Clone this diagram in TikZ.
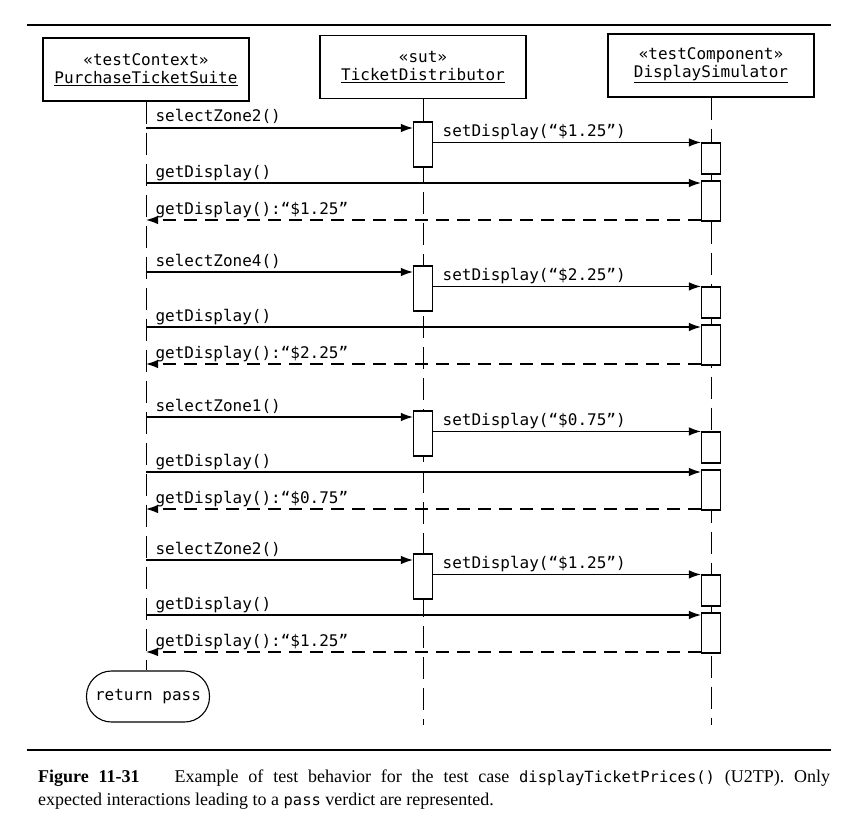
\documentclass[tikz,border=0pt]{standalone}
\usepackage{fontspec}
\setmainfont{Liberation Serif}
\setmonofont{DejaVu Sans Mono}
\usepackage{tikz}
\usetikzlibrary{arrows.meta}
\newcommand\capcode{\fontsize{15.5}{22}\selectfont\ttfamily}

\begin{document}
\begin{tikzpicture}[x=1pt, y=-1pt,
    every node/.style={font=\fontsize{16}{18}\selectfont\ttfamily},
    obj/.style={draw, line width=1.1pt, minimum width=206pt, minimum height=63pt, align=center},
    act/.style={draw, fill=white, line width=1.1pt, minimum width=19pt, inner sep=0pt},
    msg/.style={line width=1.2pt, -{Latex[length=12pt,width=8.5pt]}},
    ret/.style={msg, dash pattern=on 13pt off 8pt},
    life/.style={line width=0.9pt, dash pattern=on 22pt off 9pt},
    lbl/.style={anchor=base west, inner sep=0pt, xshift=9pt, yshift=6pt},
    rule/.style={line width=2.2pt}]
  \useasboundingbox (0,0) rectangle (846,832);
  \draw[rule] (27,25) -- (831,25);
  \draw[rule] (27,750) -- (831,750);
  \node[obj] (pts) at (146,69.5) {«testContext»\\\underline{PurchaseTicketSuite}};
  \node[obj] (td) at (423,67) {«sut»\\\underline{TicketDistributor}};
  \node[obj] (ds) at (711,65.5) {«testComponent»\\\underline{DisplaySimulator}};
  \node[draw, line width=1.1pt, rounded corners=25pt, minimum width=123pt, minimum height=51pt] (pass) at (148,696.5) {return pass};
  \coordinate (tdend) at (423,725);
  \coordinate (dsend) at (711,725);
  \draw[life] (pts.south) -- (pass.north -| pts.south);
  \draw[life] (td.south) -- (tdend);
  \draw[life] (ds.south) -- (dsend);

  \coordinate (s1) at (146,128);
  \coordinate (g1) at (146,183);
  \coordinate (r1) at (146,220);
  \node[act, minimum height=45pt] (ta1) at (423,144.5) {};
  \node[act, minimum height=31pt] (da1) at (711,158.5) {};
  \node[act, minimum height=40pt] (db1) at (711,201) {};
  \draw[msg] (s1) -- node[lbl, pos=0] (ls1) {selectZone2()} (ta1.west |- s1);
  \draw[msg] (ta1.east |- da1.north) -- node[lbl, pos=0] (lt1) {setDisplay(“\$1.25”)} (da1.north west);
  \draw[msg] (g1) -- node[lbl, pos=0] (lg1) {getDisplay()} (db1.west |- g1);
  \draw[ret] (db1.west |- r1) -- node[lbl, pos=1] (lr1) {getDisplay():“\$1.25”} (r1);

  \coordinate (s2) at (146,272);
  \coordinate (g2) at (146,327);
  \coordinate (r2) at (146,364);
  \node[act, minimum height=45pt] (ta2) at (423,288.5) {};
  \node[act, minimum height=31pt] (da2) at (711,302.5) {};
  \node[act, minimum height=40pt] (db2) at (711,345) {};
  \draw[msg] (s2) -- node[lbl, pos=0] (ls2) {selectZone4()} (ta2.west |- s2);
  \draw[msg] (ta2.east |- da2.north) -- node[lbl, pos=0] (lt2) {setDisplay(“\$2.25”)} (da2.north west);
  \draw[msg] (g2) -- node[lbl, pos=0] (lg2) {getDisplay()} (db2.west |- g2);
  \draw[ret] (db2.west |- r2) -- node[lbl, pos=1] (lr2) {getDisplay():“\$2.25”} (r2);

  \coordinate (s3) at (146,417);
  \coordinate (g3) at (146,472);
  \coordinate (r3) at (146,509);
  \node[act, minimum height=45pt] (ta3) at (423,433.5) {};
  \node[act, minimum height=31pt] (da3) at (711,447.5) {};
  \node[act, minimum height=40pt] (db3) at (711,490) {};
  \draw[msg] (s3) -- node[lbl, pos=0] (ls3) {selectZone1()} (ta3.west |- s3);
  \draw[msg] (ta3.east |- da3.north) -- node[lbl, pos=0] (lt3) {setDisplay(“\$0.75”)} (da3.north west);
  \draw[msg] (g3) -- node[lbl, pos=0] (lg3) {getDisplay()} (db3.west |- g3);
  \draw[ret] (db3.west |- r3) -- node[lbl, pos=1] (lr3) {getDisplay():“\$0.75”} (r3);

  \coordinate (s4) at (146,560);
  \coordinate (g4) at (146,615);
  \coordinate (r4) at (146,652);
  \node[act, minimum height=45pt] (ta4) at (423,576.5) {};
  \node[act, minimum height=31pt] (da4) at (711,590.5) {};
  \node[act, minimum height=40pt] (db4) at (711,633) {};
  \draw[msg] (s4) -- node[lbl, pos=0] (ls4) {selectZone2()} (ta4.west |- s4);
  \draw[msg] (ta4.east |- da4.north) -- node[lbl, pos=0] (lt4) {setDisplay(“\$1.25”)} (da4.north west);
  \draw[msg] (g4) -- node[lbl, pos=0] (lg4) {getDisplay()} (db4.west |- g4);
  \draw[ret] (db4.west |- r4) -- node[lbl, pos=1] (lr4) {getDisplay():“\$1.25”} (r4);

  \node[anchor=north west, inner sep=0pt, text width=792pt, align=justify,
        font=\fontsize{18}{23}\selectfont\rmfamily] (cap) at (38,770)
    {\textbf{Figure 11-31}\hspace{1.4em} Example of test behavior for the test case {\capcode displayTicketPrices()} (U2TP). Only\linebreak expected interactions leading to a {\capcode pass} verdict are represented.};
\end{tikzpicture}
\end{document}
